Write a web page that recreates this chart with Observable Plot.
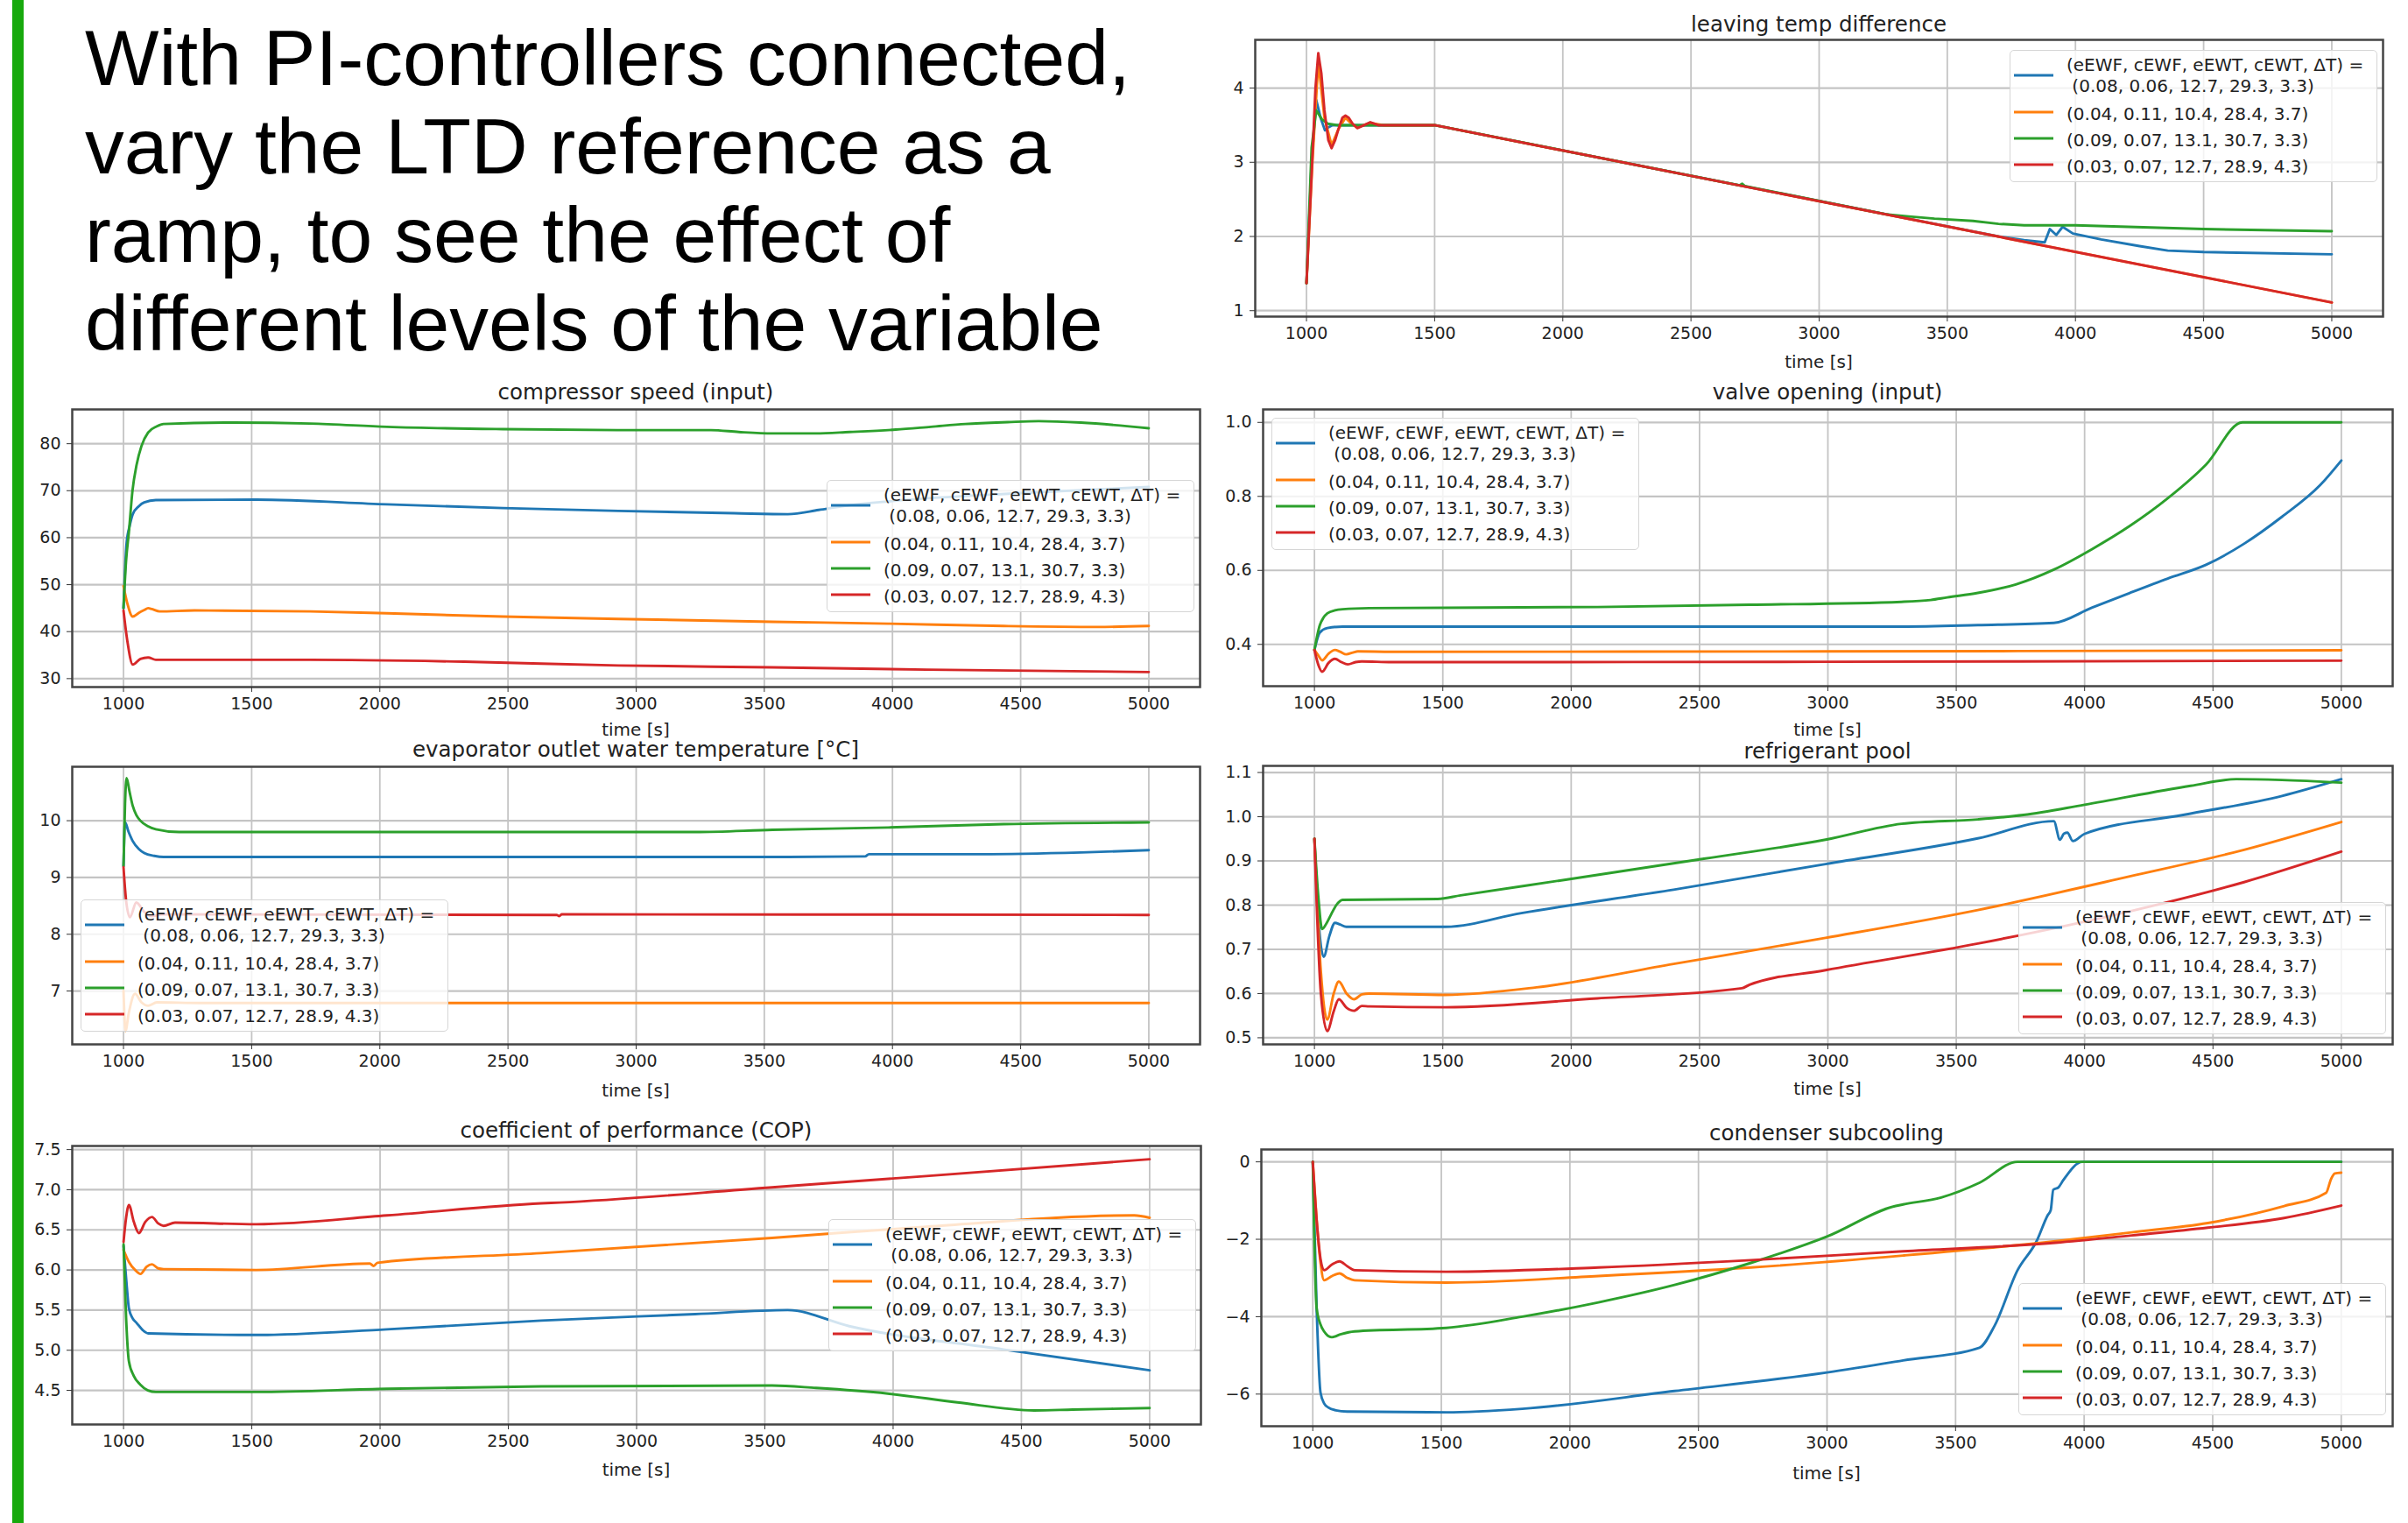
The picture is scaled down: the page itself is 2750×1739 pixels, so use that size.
<!DOCTYPE html>
<html><head><meta charset="utf-8">
<script src="https://cdn.jsdelivr.net/npm/d3@7"></script>
<script src="https://cdn.jsdelivr.net/npm/@observablehq/plot@0.6"></script>
<style>
html,body{margin:0;padding:0;background:#fff;}
#page{position:relative;width:2750px;height:1739px;overflow:hidden;background:#fff;}
.abs{position:absolute;}
.ptitle{position:absolute;transform:translate(-50%,-50%);font-family:"DejaVu Sans";font-size:24.5px;color:#222;white-space:nowrap;}
.xlab{position:absolute;transform:translate(-50%,-50%);font-family:"DejaVu Sans";font-size:20px;color:#222;white-space:nowrap;}
.legend{position:absolute;box-sizing:border-box;border:1.5px solid #d6d6d6;border-radius:5px;background:rgba(255,255,255,0.8);}
#maintitle{position:absolute;left:97px;top:16px;font-family:"Liberation Sans";font-size:89.5px;line-height:101px;color:#000;white-space:nowrap;}
#bar{position:absolute;left:14px;top:0;width:13px;height:1739px;background:#17a90d;z-index:5;}
</style></head><body><div id="page"><div id="bar"></div></div>
<script>
// ---------- shared labels ----------
const MAIN_TITLE = ["With PI-controllers connected,", "vary the LTD reference as a", "ramp, to see the effect of", "different levels of the variable"];
const SERIES_LABELS = [["(eEWF, cEWF, eEWT, cEWT, \u0394T) =", " (0.08, 0.06, 12.7, 29.3, 3.3)"], ["(0.04, 0.11, 10.4, 28.4, 3.7)"], ["(0.09, 0.07, 13.1, 30.7, 3.3)"], ["(0.03, 0.07, 12.7, 28.9, 4.3)"]];
const SERIES_COLORS = ["#1f77b4", "#ff7f0e", "#2ca02c", "#d62728"];
const X_TICKS = [1000, 1500, 2000, 2500, 3000, 3500, 4000, 4500, 5000];
const X_LABEL = "time [s]";

// ---------- leaving temp difference ----------
const LTD_BLUE = [[1000,1.37],[1020,3.0],[1038,3.84],[1055,3.6],[1072,3.43],[1085,3.47],[1101,3.5],[1500,3.5],[3700,2.0],[3800,1.95],[3880,1.92],[3900,2.1],[3925,2.02],[3950,2.13],[3990,2.04],[4100,1.96],[4250,1.87],[4360,1.81],[4500,1.79],[5000,1.76]];
const LTD_ORANGE = [[1000,1.37],[1023,3.0],[1046,4.35],[1070,3.6],[1098,3.23],[1125,3.45],[1152,3.6],[1175,3.52],[1198,3.47],[1249,3.53],[1300,3.5],[1500,3.5],[5000,1.11]];
const LTD_GREEN = [[1000,1.37],[1020,3.2],[1038,3.70],[1060,3.58],[1083,3.52],[1120,3.5],[1500,3.5],[2690,2.69],[2700,2.71],[2710,2.68],[3260,2.30],[3350,2.27],[3450,2.24],[3600,2.21],[3700,2.17],[3800,2.15],[4000,2.15],[4500,2.1],[5000,2.07]];
const LTD_RED = [[1000,1.37],[1023,3.06],[1035,4.0],[1046,4.47],[1058,4.2],[1070,3.7],[1085,3.3],[1098,3.19],[1112,3.3],[1125,3.45],[1140,3.6],[1152,3.63],[1165,3.6],[1180,3.52],[1198,3.46],[1225,3.5],[1249,3.54],[1280,3.5],[1500,3.5],[5000,1.11]];
const LTD_Y_TICKS = [1, 2, 3, 4];

// ---------- compressor speed ----------
const CS_BLUE = [[1000,45],[1012,58.8],[1024,62.5],[1036,65],[1060,66.7],[1081,67.5],[1126,68.0],[1517,68.1],[2028,67.1],[2480,66.3],[2931,65.7],[3382,65.2],[3592,65.0],[3712,65.9],[3803,66.7],[4000,67.8],[4500,69.5],[5000,70.8]];
const CS_ORANGE = [[1000,49.7],[1015,46],[1036,43.2],[1060,44],[1081,44.6],[1096,45],[1111,44.8],[1141,44.3],[1277,44.5],[1728,44.3],[2028,43.9],[2480,43.2],[2931,42.7],[3532,42.1],[3983,41.7],[4434,41.2],[4800,41.0],[5000,41.2]];
const CS_GREEN = [[1000,45],[1010,55],[1021,61.2],[1035,70],[1051,75.5],[1070,79.5],[1096,82.4],[1130,83.7],[1156,84.2],[1427,84.5],[1728,84.3],[2028,83.6],[2480,83.1],[2931,82.9],[3292,82.9],[3400,82.5],[3532,82.2],[3700,82.2],[3833,82.5],[4013,83.0],[4150,83.6],[4284,84.2],[4450,84.6],[4570,84.8],[4735,84.5],[5000,83.3]];
const CS_RED = [[1000,44.5],[1015,38],[1036,33.0],[1066,34.2],[1096,34.5],[1126,34.0],[1728,34.0],[2329,33.6],[2931,32.8],[3532,32.4],[4134,31.9],[5000,31.4]];
const CS_Y_TICKS = [30, 40, 50, 60, 70, 80];

// ---------- valve opening ----------
const VO_BLUE = [[1000,0.385],[1021,0.432],[1050,0.444],[1110,0.448],[3287,0.448],[3584,0.452],[3880,0.458],[4028,0.499],[4176,0.539],[4324,0.578],[4473,0.615],[4621,0.672],[4769,0.745],[4917,0.83],[5000,0.897]];
const VO_ORANGE = [[1000,0.385],[1015,0.37],[1030,0.357],[1055,0.375],[1080,0.385],[1100,0.38],[1124,0.373],[1150,0.378],[1169,0.381],[1300,0.38],[3000,0.381],[5000,0.384]];
const VO_GREEN = [[1000,0.385],[1021,0.452],[1035,0.472],[1050,0.484],[1080,0.492],[1110,0.495],[1213,0.498],[2102,0.501],[2695,0.507],[3287,0.515],[3400,0.52],[3465,0.527],[3584,0.539],[3732,0.562],[3880,0.602],[4028,0.657],[4176,0.72],[4324,0.795],[4473,0.886],[4615,1.0],[5000,1.0]];
const VO_RED = [[1000,0.385],[1015,0.345],[1030,0.326],[1055,0.35],[1080,0.361],[1105,0.352],[1130,0.346],[1160,0.352],[1184,0.354],[1300,0.352],[3000,0.353],[5000,0.356]];
const VO_Y_TICKS = [0.4, 0.6, 0.8, 1.0];

// ---------- evaporator outlet water temperature ----------
const EV_BLUE = [[1000,9.2],[1006,9.97],[1020,9.8],[1036,9.64],[1060,9.5],[1081,9.43],[1120,9.38],[1156,9.36],[3592,9.36],[3893,9.37],[3908,9.41],[4344,9.41],[4735,9.44],[5000,9.48]];
const EV_ORANGE = [[1000,7.0],[1008,6.3],[1020,6.6],[1045,6.95],[1070,6.8],[1096,6.74],[1130,6.8],[1300,6.79],[5000,6.79]];
const EV_GREEN = [[1000,9.2],[1006,10.3],[1012,10.75],[1024,10.5],[1036,10.26],[1050,10.1],[1066,10.0],[1096,9.9],[1126,9.85],[1217,9.8],[2028,9.8],[3232,9.8],[3532,9.84],[3983,9.88],[4434,9.94],[5000,9.97]];
const EV_RED = [[1000,9.18],[1010,8.6],[1025,8.3],[1050,8.56],[1080,8.4],[1110,8.32],[1150,8.35],[2690,8.34],[2700,8.32],[2710,8.35],[5000,8.34]];
const EV_Y_TICKS = [7, 8, 9, 10];

// ---------- refrigerant pool ----------
const RP_BLUE = [[1000,0.95],[1018,0.75],[1036,0.683],[1058,0.73],[1080,0.76],[1100,0.756],[1124,0.751],[1510,0.751],[1806,0.782],[2399,0.835],[2991,0.893],[3584,0.951],[3880,0.99],[3904,0.948],[3920,0.962],[3933,0.964],[3954,0.945],[3999,0.961],[4384,1.004],[4769,1.047],[5000,1.085]];
const RP_ORANGE = [[1000,0.95],[1025,0.65],[1050,0.541],[1075,0.6],[1095,0.627],[1125,0.6],[1154,0.587],[1185,0.598],[1213,0.6],[1510,0.597],[1865,0.614],[2399,0.667],[2991,0.726],[3584,0.789],[4176,0.865],[4621,0.925],[5000,0.988]];
const RP_GREEN = [[1000,0.95],[1015,0.82],[1030,0.746],[1048,0.76],[1065,0.779],[1085,0.8],[1110,0.812],[1480,0.814],[1569,0.822],[1984,0.858],[2517,0.905],[2991,0.948],[3287,0.984],[3584,0.994],[3762,1.004],[4000,1.027],[4413,1.07],[4591,1.085],[4769,1.083],[5000,1.077]];
const RP_RED = [[1000,0.95],[1025,0.6],[1050,0.515],[1075,0.56],[1095,0.587],[1125,0.568],[1154,0.561],[1185,0.572],[1213,0.571],[1510,0.569],[2102,0.589],[2665,0.612],[2695,0.62],[2991,0.653],[3584,0.713],[4176,0.786],[4621,0.852],[5000,0.921]];
const RP_Y_TICKS = [0.5, 0.6, 0.7, 0.8, 0.9, 1.0, 1.1];

// ---------- coefficient of performance ----------
const COP_BLUE = [[1000,6.3],[1010,5.9],[1021,5.52],[1035,5.4],[1051,5.34],[1075,5.25],[1096,5.21],[1517,5.19],[2027,5.26],[2628,5.37],[3228,5.45],[3589,5.5],[3829,5.3],[4430,5.01],[5000,4.75]];
const COP_ORANGE = [[1000,6.25],[1021,6.1],[1045,6.0],[1066,5.95],[1090,6.04],[1111,6.07],[1135,6.02],[1156,6.01],[1517,6.0],[1960,6.08],[1975,6.05],[1990,6.09],[2628,6.21],[3528,6.40],[4129,6.54],[4940,6.68],[5000,6.65]];
const COP_GREEN = [[1000,6.32],[1010,5.4],[1021,4.86],[1040,4.68],[1066,4.57],[1095,4.5],[1126,4.48],[1517,4.48],[2027,4.52],[2628,4.55],[3528,4.56],[3700,4.53],[3979,4.46],[4250,4.35],[4550,4.25],[4700,4.26],[5000,4.28]];
const COP_RED = [[1000,6.35],[1010,6.65],[1021,6.81],[1040,6.6],[1060,6.46],[1085,6.6],[1111,6.66],[1135,6.58],[1156,6.55],[1201,6.59],[1517,6.57],[2027,6.68],[2628,6.83],[2700,6.84],[3528,7.03],[4129,7.17],[5000,7.38]];
const COP_Y_TICKS = [4.5, 5.0, 5.5, 6.0, 6.5, 7.0, 7.5];

// ---------- condenser subcooling ----------
const SC_BLUE = [[1000,0],[1015,-3.78],[1030,-5.96],[1045,-6.25],[1059,-6.34],[1090,-6.42],[1133,-6.45],[1519,-6.47],[1815,-6.38],[2407,-5.92],[3000,-5.44],[3296,-5.13],[3593,-4.8],[3652,-4.23],[3741,-2.8],[3815,-2.05],[3859,-1.37],[3870,-1.25],[3880,-0.72],[3900,-0.66],[3919,-0.47],[3993,0],[5000,0]];
const SC_ORANGE = [[1000,0],[1015,-1.5],[1030,-2.6],[1044,-3.06],[1075,-2.95],[1104,-2.88],[1135,-3.0],[1163,-3.06],[1519,-3.12],[2111,-2.95],[2704,-2.73],[3296,-2.42],[3889,-2.05],[4185,-1.82],[4481,-1.58],[4778,-1.14],[4941,-0.8],[4960,-0.45],[4975,-0.3],[5000,-0.28]];
const SC_GREEN = [[1000,0],[1015,-3.78],[1030,-4.2],[1044,-4.38],[1074,-4.53],[1110,-4.45],[1163,-4.38],[1519,-4.29],[1815,-4.0],[2111,-3.63],[2407,-3.18],[2704,-2.61],[3000,-1.93],[3267,-1.14],[3296,-1.1],[3444,-0.92],[3593,-0.54],[3741,0],[5000,0]];
const SC_RED = [[1000,0],[1015,-1.5],[1030,-2.5],[1044,-2.8],[1075,-2.65],[1104,-2.57],[1135,-2.7],[1163,-2.8],[1519,-2.84],[2111,-2.73],[2704,-2.54],[3296,-2.31],[3889,-2.09],[4185,-1.9],[4481,-1.7],[4778,-1.45],[5000,-1.13]];
const SC_Y_TICKS = [-6, -4, -2, 0];

// ---------- layout ----------
const fmt1 = d => d.toFixed(1);
const fmtInt = d => (d < 0 ? "\u2212" + Math.abs(d) : String(d));
const PANELS = [
  {title: "leaving temp difference", series: [LTD_BLUE, LTD_ORANGE, LTD_GREEN, LTD_RED], yTicks: LTD_Y_TICKS, yDomain: [0.92, 4.65], fmt: fmtInt, curve: "linear",
   L: 1433, R: 2721, T: 45, B: 361, titleY: 27, xlabY: 413, leg: [2295, 57]},
  {title: "compressor speed (input)", series: [CS_BLUE, CS_ORANGE, CS_GREEN, CS_RED], yTicks: CS_Y_TICKS, yDomain: [28.2, 87.3], fmt: fmtInt, curve: "monotone-x",
   L: 82, R: 1370, T: 467, B: 784, titleY: 447, xlabY: 833, leg: [944, 548]},
  {title: "valve opening (input)", series: [VO_BLUE, VO_ORANGE, VO_GREEN, VO_RED], yTicks: VO_Y_TICKS, yDomain: [0.287, 1.035], fmt: fmt1, curve: "monotone-x",
   L: 1442, R: 2732, T: 467, B: 783, titleY: 447, xlabY: 833, leg: [1452, 477]},
  {title: "evaporator outlet water temperature [\u00B0C]", series: [EV_BLUE, EV_ORANGE, EV_GREEN, EV_RED], yTicks: EV_Y_TICKS, yDomain: [6.06, 10.95], fmt: fmtInt, curve: "monotone-x",
   L: 82, R: 1370, T: 875, B: 1192, titleY: 855, xlabY: 1245, leg: [92, 1027]},
  {title: "refrigerant pool", series: [RP_BLUE, RP_ORANGE, RP_GREEN, RP_RED], yTicks: RP_Y_TICKS, yDomain: [0.485, 1.115], fmt: fmt1, curve: "monotone-x",
   L: 1442, R: 2732, T: 874, B: 1192, titleY: 857, xlabY: 1243, leg: [2305, 1030]},
  {title: "coefficient of performance (COP)", series: [COP_BLUE, COP_ORANGE, COP_GREEN, COP_RED], yTicks: COP_Y_TICKS, yDomain: [4.075, 7.545], fmt: fmt1, curve: "monotone-x",
   L: 82, R: 1371, T: 1308, B: 1626, titleY: 1290, xlabY: 1678, leg: [946, 1392]},
  {title: "condenser subcooling", series: [SC_BLUE, SC_ORANGE, SC_GREEN, SC_RED], yTicks: SC_Y_TICKS, yDomain: [-6.83, 0.32], fmt: fmtInt, curve: "monotone-x",
   L: 1440, R: 2732, T: 1312, B: 1628, titleY: 1293, xlabY: 1682, leg: [2305, 1465]}
];

const page = document.getElementById("page");

function add(tag, cls, css, text) {
  const el = document.createElement(tag);
  if (cls) el.className = cls;
  Object.assign(el.style, css);
  if (text != null) el.textContent = text;
  page.appendChild(el);
  return el;
}

// main title
const mt = add("div", null, {}, null);
mt.id = "maintitle";
mt.innerHTML = MAIN_TITLE.join("<br>");

function legend(x, y) {
  const W = 420, H = 151;
  const box = add("div", "legend", {left: x + "px", top: y + "px", width: W + "px", height: H + "px"});
  const ns = "http://www.w3.org/2000/svg";
  const svg = document.createElementNS(ns, "svg");
  svg.setAttribute("width", W); svg.setAttribute("height", H);
  svg.style.position = "absolute"; svg.style.left = "-1.5px"; svg.style.top = "-1.5px";
  const textCenters = [[17, 41], [73], [103], [133]];
  const handleY = [29, 71, 101, 131];
  SERIES_LABELS.forEach((lines, i) => {
    const ln = document.createElementNS(ns, "line");
    ln.setAttribute("x1", 5); ln.setAttribute("x2", 50);
    ln.setAttribute("y1", handleY[i]); ln.setAttribute("y2", handleY[i]);
    ln.setAttribute("stroke", SERIES_COLORS[i]); ln.setAttribute("stroke-width", 3);
    svg.appendChild(ln);
    lines.forEach((s, j) => {
      const t = document.createElementNS(ns, "text");
      t.setAttribute("x", 65); t.setAttribute("y", textCenters[i][j] + 7);
      t.setAttribute("font-family", "DejaVu Sans"); t.setAttribute("font-size", 20);
      t.setAttribute("fill", "#222");
      t.style.whiteSpace = "pre";
      t.textContent = s;
      svg.appendChild(t);
    });
  });
  box.appendChild(svg);
}

const ML = 75, MR = 12, MT = 12, MB = 45;
PANELS.forEach(p => {
  const W = p.R - p.L + ML + MR, H = p.B - p.T + MT + MB;
  const marks = [
    Plot.gridX(X_TICKS, {stroke: "#c4c4c4", strokeOpacity: 1, strokeWidth: 1.8}),
    Plot.gridY(p.yTicks, {stroke: "#c4c4c4", strokeOpacity: 1, strokeWidth: 2.2})
  ];
  p.series.forEach((arr, i) => {
    marks.push(Plot.line(arr, {x: d => d[0], y: d => d[1], stroke: SERIES_COLORS[i], strokeWidth: 2.9, curve: p.curve, strokeLinejoin: "round"}));
  });
  marks.push(Plot.frame({stroke: "#444", strokeWidth: 2.5}));
  marks.push(Plot.axisX(X_TICKS, {tickSize: 6, tickPadding: 6, label: null, tickFormat: d => String(d), stroke: "#333"}));
  marks.push(Plot.axisY(p.yTicks, {tickSize: 6, tickPadding: 7, label: null, tickFormat: p.fmt, stroke: "#333"}));
  const chart = Plot.plot({
    width: W, height: H, marginLeft: ML, marginRight: MR, marginTop: MT, marginBottom: MB,
    style: {fontFamily: "DejaVu Sans", fontSize: "19px", color: "#222", background: "transparent", maxWidth: "none", overflow: "visible"},
    x: {domain: [800, 5200]},
    y: {domain: p.yDomain},
    marks
  });
  const wrap = add("div", "abs", {left: (p.L - ML) + "px", top: (p.T - MT) + "px", width: W + "px", height: H + "px"});
  wrap.appendChild(chart);
  add("div", "ptitle", {left: ((p.L + p.R) / 2) + "px", top: p.titleY + "px"}, p.title);
  add("div", "xlab", {left: ((p.L + p.R) / 2) + "px", top: p.xlabY + "px"}, X_LABEL);
  legend(p.leg[0], p.leg[1]);
});
</script>
</body></html>
